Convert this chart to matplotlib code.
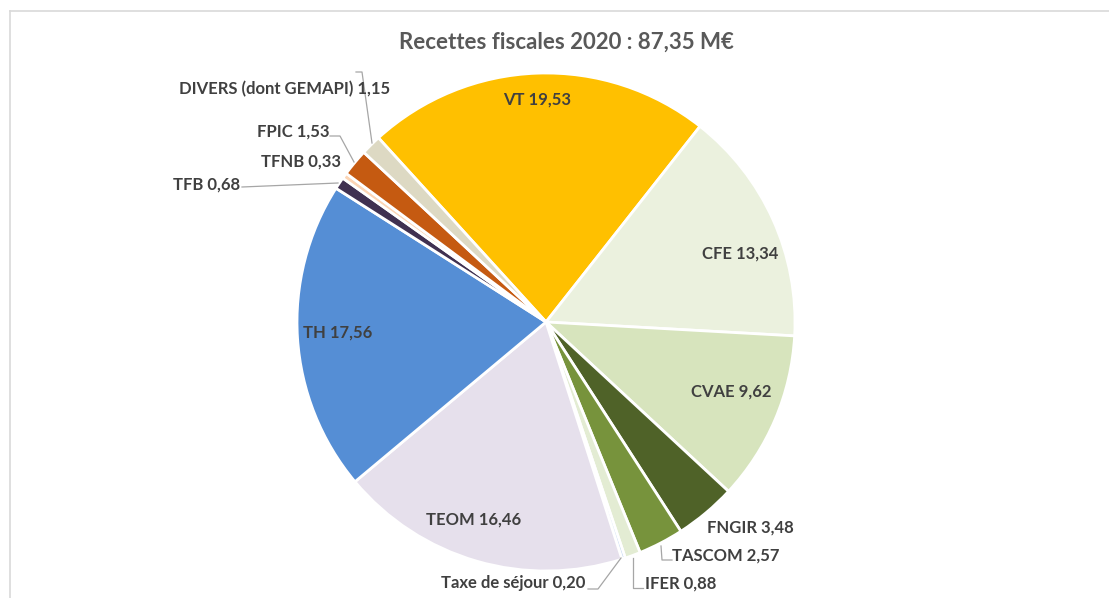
import matplotlib
matplotlib.use("Agg")
import matplotlib.pyplot as plt
from matplotlib.lines import Line2D

# ---- data ----
categories = ["VT", "CFE", "CVAE", "FNGIR", "TASCOM", "IFER", "Taxe de séjour",
              "TEOM", "TH", "TFB", "TFNB", "FPIC", "DIVERS (dont GEMAPI)"]
values = [19.53, 13.34, 9.62, 3.48, 2.57, 0.88, 0.20,
          16.46, 17.56, 0.68, 0.33, 1.53, 1.15]
value_labels = ["19,53", "13,34", "9,62", "3,48", "2,57", "0,88", "0,20",
                "16,46", "17,56", "0,68", "0,33", "1,53", "1,15"]
title = "Recettes fiscales 2020 : 87,35 M€"

# ---- style ----
colors = ["#FFC000", "#EBF1DE", "#D7E4BD", "#4F6228", "#77933C", "#E3ECD3", "#C6D9F1",
          "#E6E0EC", "#558ED5", "#403151", "#FCD5B5", "#C55A11", "#DDD9C3"]
label_pos = [(-0.036, 0.892), (0.779, 0.277), (0.743, -0.281), (0.819, -0.827),
             (0.723, -0.936), (0.542, -1.052), (-0.133, -1.048), (-0.289, -0.795),
             (-0.835, -0.044), (-1.365, 0.554), (-0.984, 0.643), (-1.016, 0.767),
             (-1.048, 0.936)]
# leader lines (pixel coords of reference image)
leaders_px = {
    "DIVERS (dont GEMAPI)": [(356, 72), (362, 72), (372, 143)],
    "FPIC": [(330, 136), (340, 136), (354, 162)],
    "TFB": [(242, 187), (338, 183)],
    "Taxe de séjour": [(588, 589), (598, 589), (621, 558)],
    "IFER": [(643, 588), (633, 588), (633, 558)],
    "TASCOM": [(672, 560), (662, 560), (661, 546)],
}

W, H = 1109, 598
fig = plt.figure(figsize=(W / 100, H / 100), dpi=100)
fig.patch.set_facecolor("white")

cx, cy, R = 546, 322, 249
ax = fig.add_axes([(cx - R) / W, 1 - (cy + R) / H, 2 * R / W, 2 * R / H])
ax.pie(values, colors=colors, startangle=132.3, counterclock=False,
       radius=1, wedgeprops=dict(edgecolor="white", linewidth=2))
ax.set_xlim(-1, 1)
ax.set_ylim(-1, 1)
ax.set_aspect("equal")
ax.axis("off")

font = "Lato"
for cat, val, (x, y) in zip(categories, value_labels, label_pos):
    ax.text(x, y, f"{cat} {val}", ha="center", va="center", fontsize=12,
            fontweight="bold", color="#404040", family=font, clip_on=False)

def px2data(p):
    return ((p[0] - cx) / R, (cy - p[1]) / R)

for cat, pts in leaders_px.items():
    d = [px2data(p) for p in pts]
    ax.plot([q[0] for q in d], [q[1] for q in d], color="#A6A6A6", lw=0.9,
            clip_on=False)

fig.text(566 / W, 1 - 42 / H, title, ha="center", va="center", fontsize=16,
         color="#595959", family=font, fontweight="bold")

# chart frame
fig.add_artist(Line2D([10 / W, 1.0], [1 - 11 / H, 1 - 11 / H], color="#D9D9D9", lw=1.2,
                      transform=fig.transFigure))
fig.add_artist(Line2D([10 / W, 10 / W], [0, 1 - 11 / H], color="#D9D9D9", lw=1.2,
                      transform=fig.transFigure))

fig.savefig("out.png", dpi=100)
